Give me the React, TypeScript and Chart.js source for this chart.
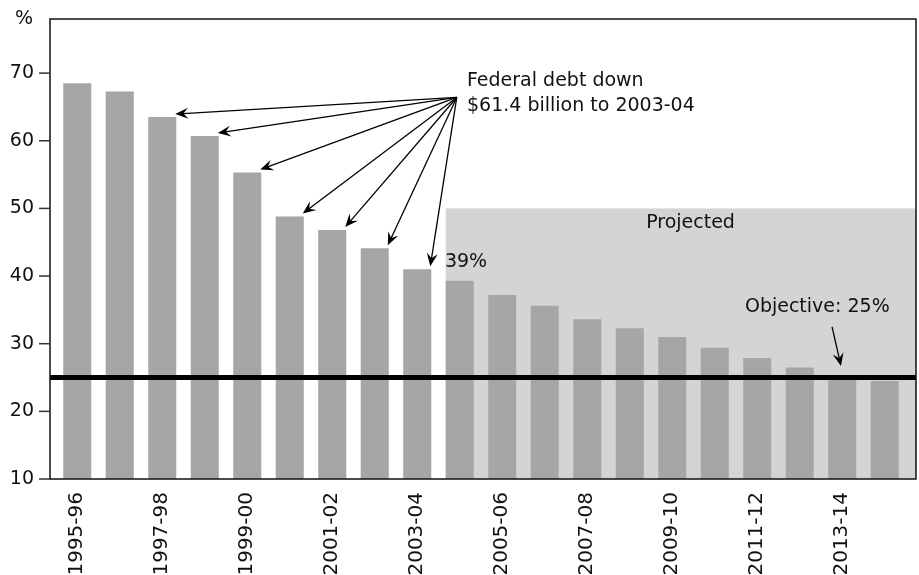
import React, { useEffect, useRef } from "react";
import { Chart, registerables } from "chart.js";

Chart.register(...registerables);

// ---- Data ----
const categories = [
  "1995-96", "1996-97", "1997-98", "1998-99", "1999-00",
  "2000-01", "2001-02", "2002-03", "2003-04", "2004-05",
  "2005-06", "2006-07", "2007-08", "2008-09", "2009-10",
  "2010-11", "2011-12", "2012-13", "2013-14", "2014-15",
];
const debtToGdp = [
  68.5, 67.3, 63.5, 60.7, 55.3,
  48.8, 46.8, 44.1, 41.0, 39.3,
  37.2, 35.6, 33.6, 32.3, 31.0,
  29.4, 27.9, 26.5, 25.2, 24.5,
];
const yMin = 10;
const yMax = 78;
const yStep = 10;
const objectiveValue = 25;
const projectedStartIndex = 9;
const projectedTopValue = 50;
const arrowTargetIndices = [2, 3, 4, 5, 6, 7, 8];
const debtNoteLines = ["Federal debt down", "$61.4 billion to 2003-04"];
const projectedLabel = "Projected";
const lastActualLabel = "39%";
const objectiveLabel = "Objective: 25%";
const unitLabel = "%";

const FONT = '"DejaVu Sans", sans-serif';
const FONT_SIZE = 19;
const TEXT = "#111";

function drawArrow(ctx: CanvasRenderingContext2D, x1: number, y1: number, x2: number, y2: number) {
  const head = 13;
  const half = 5.5;
  const ang = Math.atan2(y2 - y1, x2 - x1);
  const c = Math.cos(ang);
  const s = Math.sin(ang);
  ctx.beginPath();
  ctx.moveTo(x1, y1);
  ctx.lineTo(x2 - c * head * 0.6, y2 - s * head * 0.6);
  ctx.stroke();
  ctx.beginPath();
  ctx.moveTo(x2, y2);
  ctx.lineTo(x2 - c * head - s * half, y2 - s * head + c * half);
  ctx.lineTo(x2 - c * head * 0.62, y2 - s * head * 0.62);
  ctx.lineTo(x2 - c * head + s * half, y2 - s * head - c * half);
  ctx.closePath();
  ctx.fill();
}

const overlayPlugin = {
  id: "overlay",
  beforeDatasetsDraw(chart: any) {
    const { ctx, chartArea, scales } = chart;
    const y = scales.y;
    const frameRight = chartArea.right + 10;
    const bar = chart.getDatasetMeta(0).data[projectedStartIndex] as any;
    const left = bar.x - bar.width / 2;
    const top = y.getPixelForValue(projectedTopValue);
    ctx.save();
    ctx.fillStyle = "#d4d4d4";
    ctx.fillRect(left, top, frameRight - left, chartArea.bottom - top);
    ctx.restore();
  },
  afterDatasetsDraw(chart: any) {
    const { ctx, chartArea, scales } = chart;
    const x = scales.x;
    const y = scales.y;
    const fl = chartArea.left - 6;
    const fr = chartArea.right + 10;
    const ft = chartArea.top;
    const fb = chartArea.bottom;
    const meta = chart.getDatasetMeta(0);

    ctx.save();
    // Objective line
    const oy = y.getPixelForValue(objectiveValue);
    ctx.strokeStyle = "#000";
    ctx.lineWidth = 5;
    ctx.beginPath();
    ctx.moveTo(fl, oy);
    ctx.lineTo(fr, oy);
    ctx.stroke();

    // Frame
    ctx.lineWidth = 1.5;
    ctx.strokeStyle = "#111";
    ctx.strokeRect(fl, ft, fr - fl, fb - ft);

    // Y tick marks
    ctx.strokeStyle = "#333";
    ctx.lineWidth = 1.5;
    y.ticks.forEach((t: any) => {
      const py = y.getPixelForValue(t.value);
      ctx.beginPath();
      ctx.moveTo(fl - 11, py);
      ctx.lineTo(fl, py);
      ctx.stroke();
    });

    // Text
    ctx.fillStyle = TEXT;
    ctx.font = `${FONT_SIZE}px ${FONT}`;
    ctx.textBaseline = "middle";
    ctx.textAlign = "center";
    ctx.fillText(unitLabel, fl - 26, ft);

    // Federal debt note
    ctx.textAlign = "left";
    const noteX = x.getPixelForValue(9.17);
    ctx.fillText(debtNoteLines[0], noteX, y.getPixelForValue(68.8));
    ctx.fillText(debtNoteLines[1], noteX, y.getPixelForValue(65.2));

    // Arrows from note to bars
    ctx.strokeStyle = "#000";
    ctx.fillStyle = "#000";
    ctx.lineWidth = 1.3;
    const sx = x.getPixelForValue(8.93);
    const sy = y.getPixelForValue(66.4);
    arrowTargetIndices.forEach((i) => {
      const b = meta.data[i] as any;
      drawArrow(ctx, sx, sy, b.x + b.width / 2 - 1, b.y - 3);
    });

    // 39% label
    ctx.fillStyle = TEXT;
    ctx.fillText(lastActualLabel, x.getPixelForValue(8.65), y.getPixelForValue(42.05));

    // Projected label
    ctx.textAlign = "center";
    ctx.fillText(projectedLabel, x.getPixelForValue(14.43), y.getPixelForValue(47.8));

    // Objective label + arrow
    ctx.textAlign = "left";
    ctx.fillText(objectiveLabel, x.getPixelForValue(15.71), y.getPixelForValue(35.4));
    ctx.fillStyle = "#000";
    drawArrow(
      ctx,
      x.getPixelForValue(17.76),
      y.getPixelForValue(32.5),
      x.getPixelForValue(17.97),
      y.getPixelForValue(26.7)
    );
    ctx.restore();
  },
};

export default function App() {
  const canvasRef = useRef<HTMLCanvasElement | null>(null);

  useEffect(() => {
    if (!canvasRef.current) return;
    const chart = new Chart(canvasRef.current, {
      type: "bar",
      data: {
        labels: categories,
        datasets: [
          {
            data: debtToGdp,
            backgroundColor: "#a6a6a6",
            borderWidth: 0,
            barPercentage: 0.66,
            categoryPercentage: 1,
          },
        ],
      },
      options: {
        animation: false,
        responsive: true,
        maintainAspectRatio: false,
        layout: { padding: { top: 19, right: 13, bottom: 0, left: 0 } },
        plugins: {
          legend: { display: false },
          tooltip: { enabled: false },
        },
        scales: {
          x: {
            type: "category",
            offset: true,
            grid: { display: false, drawTicks: false },
            border: { display: false },
            afterFit: (s: any) => {
              s.height = 96;
              s.paddingLeft = 0;
              s.paddingRight = 0;
            },
            ticks: {
              autoSkip: false,
              minRotation: 90,
              maxRotation: 90,
              padding: 13,
              color: TEXT,
              font: { family: FONT, size: 20 },
              callback: (_v: any, i: number) => (i % 2 === 0 ? categories[i] : ""),
            },
          },
          y: {
            min: yMin,
            max: yMax,
            grid: { display: false, drawTicks: false },
            border: { display: false },
            afterFit: (s: any) => {
              s.width = 56;
              s.paddingTop = 0;
              s.paddingBottom = 0;
            },
            ticks: {
              stepSize: yStep,
              includeBounds: false,
              padding: 22,
              color: TEXT,
              font: { family: FONT, size: FONT_SIZE },
            },
          },
        },
      },
      plugins: [overlayPlugin],
    });
    return () => chart.destroy();
  }, []);

  return (
    <div style={{ position: "absolute", left: 0, top: 0, width: 919, height: 575, background: "#fff" }}>
      <canvas ref={canvasRef} />
    </div>
  );
}
